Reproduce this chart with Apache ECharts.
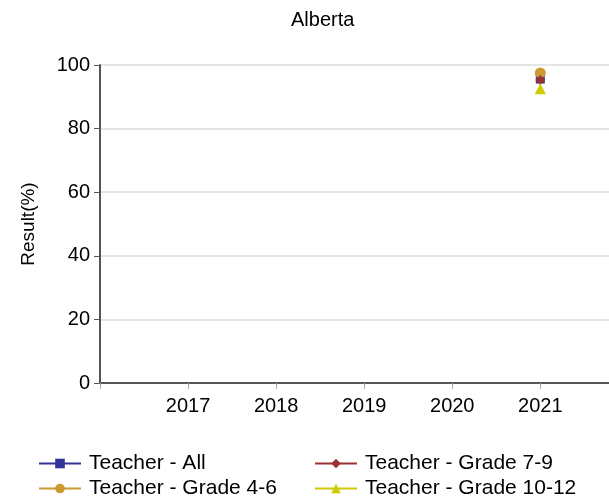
<!DOCTYPE html>
<html>
<head>
<meta charset="utf-8">
<script src="https://cdn.jsdelivr.net/npm/echarts@6/dist/echarts.min.js"></script>
<style>
  html, body { margin: 0; padding: 0; background: #fff; }
  #chart { width: 609px; height: 499px; }
</style>
</head>
<body>
<div id="chart"></div>
<script>
// data (only 2021 has values)
var years = [2017, 2018, 2019, 2020, 2021];
var teacherAll = [null, null, null, null, 95.6];
var grade46 = [null, null, null, null, 97.5];
var grade79 = [null, null, null, null, 95.3];
var grade1012 = [null, null, null, null, 92.5];
var yTicks = [0, 20, 40, 60, 80, 100];

function pairs(vals) {
    return years.map(function (y, i) { return [y, vals[i]]; });
}

var font = 'Liberation Sans, Arial, sans-serif';

var myChart = echarts.init(document.getElementById('chart'));

function line(name, vals, color, symbol, size) {
    return {
        name: name,
        type: 'line',
        data: pairs(vals),
        symbol: symbol,
        symbolSize: size,
        itemStyle: { color: color },
        lineStyle: { color: color, width: 1.5 }
    };
}

// one legend per entry so the 2x2 layout is fixed
function legendAt(name, left, top) {
    return {
        data: [name],
        left: left,
        top: top,
        padding: 0,
        itemWidth: 42,
        itemHeight: 12,
        itemGap: 10,
        textStyle: { fontFamily: font, fontSize: 21, color: '#000', padding: [0, 0, 0, 3] }
    };
}

var option = {
    animation: false,
    backgroundColor: '#fff',
    title: {
        text: 'Alberta',
        left: 286,
        top: 5,
        textStyle: { fontFamily: font, fontSize: 20, fontWeight: 'normal', color: '#000' }
    },
    legend: [
        legendAt('Teacher - All', 38, 453),
        legendAt('Teacher - Grade 4-6', 38, 478),
        legendAt('Teacher - Grade 7-9', 314, 453),
        legendAt('Teacher - Grade 10-12', 314, 478)
    ],
    grid: { left: 100, right: 0, top: 65, bottom: 116 },
    xAxis: {
        type: 'value',
        min: 2016,
        max: 2021.78,
        interval: 1,
        axisLine: { lineStyle: { color: '#555', width: 2 } },
        axisTick: { show: true, length: 6, lineStyle: { color: '#aaa' } },
        splitLine: { show: false },
        axisLabel: {
            margin: 13,
            fontFamily: font,
            fontSize: 20,
            color: '#000',
            showMaxLabel: false,
            formatter: function (v) {
                return years.indexOf(v) >= 0 ? String(v) : '';
            }
        }
    },
    yAxis: {
        type: 'value',
        min: yTicks[0],
        max: yTicks[yTicks.length - 1],
        interval: 20,
        name: 'Result(%)',
        nameLocation: 'middle',
        nameGap: 62,
        nameTextStyle: { fontFamily: font, fontSize: 19, color: '#000' },
        axisLine: { show: true, lineStyle: { color: '#555', width: 2 } },
        axisTick: { show: true, length: 6, lineStyle: { color: '#555' } },
        splitLine: { lineStyle: { color: '#ddd', width: 1.5 } },
        axisLabel: { margin: 10, fontFamily: font, fontSize: 20, color: '#000' }
    },
    series: [
        line('Teacher - All', teacherAll, '#333399', 'rect', 9),
        line('Teacher - Grade 4-6', grade46, '#CC9933', 'circle', 11),
        line('Teacher - Grade 7-9', grade79, '#993333', 'diamond', 10),
        line('Teacher - Grade 10-12', grade1012, '#CCCC00', 'triangle', 11)
    ]
};

myChart.setOption(option);
</script>
</body>
</html>
